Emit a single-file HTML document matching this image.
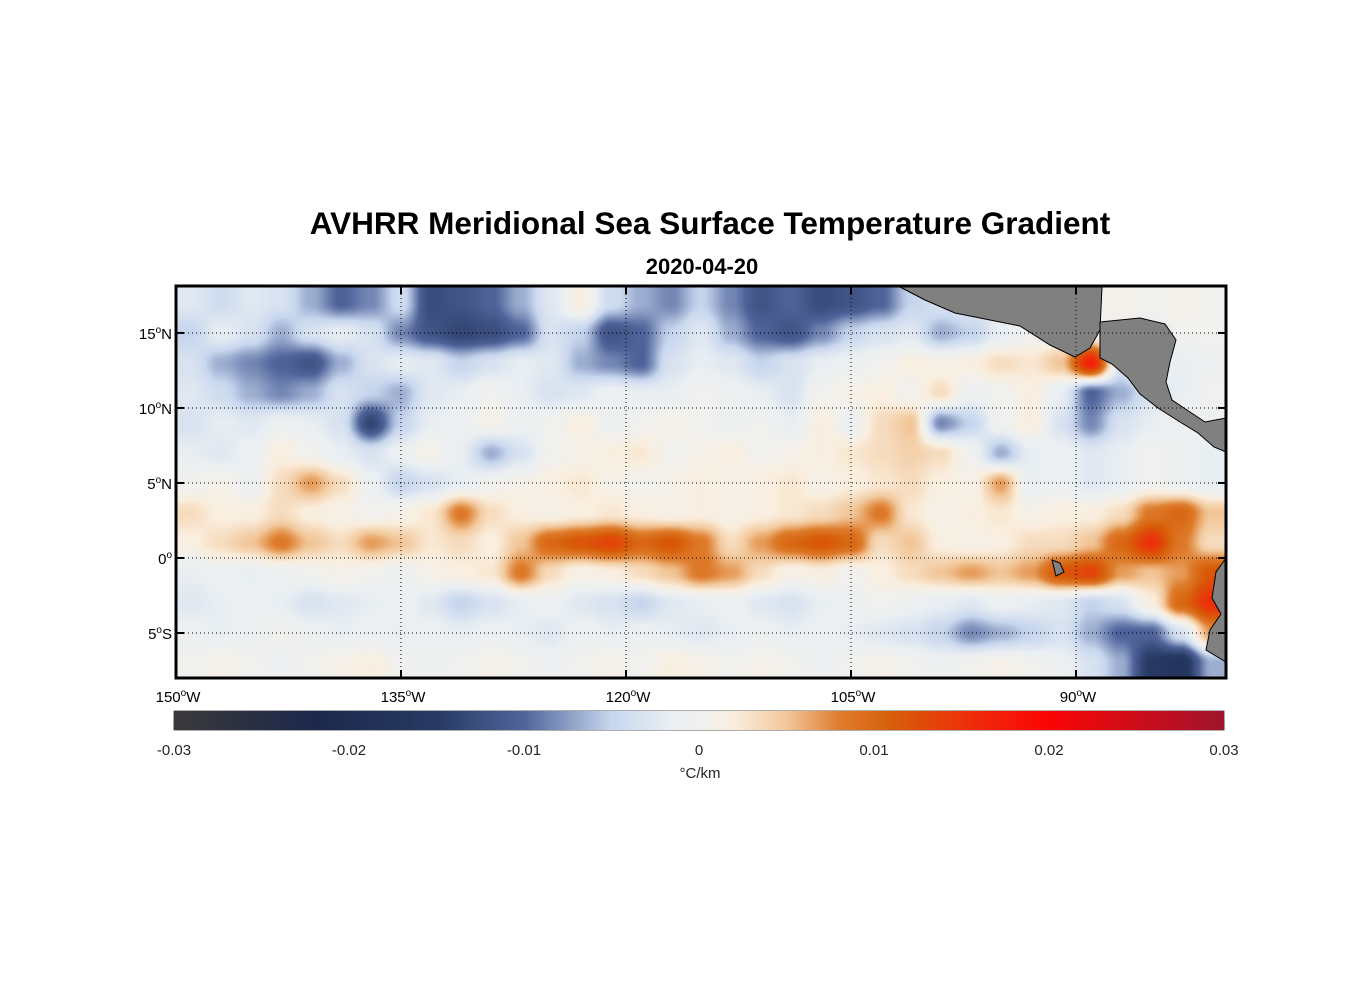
<!DOCTYPE html>
<html><head><meta charset="utf-8"><style>
body{margin:0;background:#fff;width:1356px;height:1000px;overflow:hidden;font-family:"Liberation Sans",sans-serif;}
#wrap{position:relative;width:1356px;height:1000px;}
.t{position:absolute;white-space:nowrap;color:#000;}
</style></head><body><div id="wrap">
<div class="t" style="left:0;width:1420px;text-align:center;top:205px;font-size:31.5px;font-weight:bold;">AVHRR Meridional Sea Surface Temperature Gradient</div>
<div class="t" style="left:0;width:1404px;text-align:center;top:254px;font-size:22px;font-weight:bold;">2020-04-20</div>
<canvas id="map" width="1050" height="392" style="position:absolute;left:176px;top:286px;"></canvas>
<svg id="ov" width="1356" height="1000" style="position:absolute;left:0;top:0;"></svg>
<canvas id="cb" width="1050" height="19" style="position:absolute;left:174px;top:711px;"></canvas>
</div>
<script>
const lonCenters=[-149,-147,-145,-143,-141,-139,-137,-135,-133,-131,-129,-127,-125,-123,-121,-119,-117,-115,-113,-111,-109,-107,-105,-103,-101,-99,-97,-95,-93,-91,-89,-87,-85,-83,-81];
const latCenters=[17,15,13,11,9,7,5,3,1,-1,-3,-5,-7];
const gradRows=[
[-3,-5,-3,-4,-8,-12,-10,-5,-15,-14,-12,-8,-3,2,-5,-8,-10,-6,-10,-14,-12,-15,-14,-12,-6,-4,-3,-2,0,0,0,1,0,1,0],
[-6,-2,-4,-8,-4,-2,-4,-10,-14,-16,-15,-12,-4,-6,-14,-12,-6,-3,-8,-12,-14,-10,-6,-4,-3,-8,-6,-2,0,0,0,0,-1,0,0],
[-4,-8,-10,-12,-14,-8,-4,-2,-3,-6,-4,-2,-3,-8,-10,-12,-4,-2,-3,-6,-4,-2,-1,0,2,1,2,4,3,6,20,-3,0,-2,-1],
[-3,-5,-8,-10,-8,-4,-6,-8,-3,-2,0,-2,-4,-3,-1,-2,-2,0,-1,-2,-4,0,1,2,0,4,-1,0,2,-2,-12,-8,-4,-2,0],
[-4,-2,-3,-1,-2,-4,-16,-6,-2,-1,1,-1,0,2,-1,0,1,0,-1,0,-2,2,-1,4,6,-10,-6,0,2,-4,-10,-4,-2,-1,-1],
[-2,-3,-1,2,0,-2,-4,-1,1,-2,-8,-4,0,1,2,3,0,1,2,0,1,2,3,4,5,4,0,-8,-2,-1,-3,-2,0,-1,-2],
[0,1,-1,4,8,4,-1,-6,-4,-2,0,1,2,3,1,0,1,2,1,2,3,1,2,3,4,2,1,8,-2,-1,-3,-2,0,-1,-2],
[4,2,2,4,2,1,0,1,3,10,4,2,1,2,3,2,1,2,1,2,3,4,6,10,3,1,2,3,1,2,2,4,10,12,6],
[2,4,6,10,6,4,8,6,3,4,2,6,12,14,16,12,14,10,4,8,12,14,12,4,6,2,1,2,4,4,6,12,18,10,4],
[-2,-1,-2,-1,0,1,0,-1,1,2,3,10,4,1,2,4,6,10,8,4,1,2,0,2,4,6,8,6,8,14,16,8,6,8,14],
[-3,-2,-1,-2,-4,-3,-2,-1,-3,-6,-4,-2,-1,-3,-4,-6,-3,-2,-1,-3,-4,-2,-1,0,-1,-2,-3,-1,-2,-3,-6,-4,2,12,18],
[-1,-2,-1,0,-1,-2,-1,-2,-1,-2,-1,-2,-3,-1,-2,-1,-2,-3,-2,-1,-2,-1,-2,-3,-4,-6,-10,-8,-6,-4,-8,-12,-12,-4,8],
[0,1,0,-1,0,1,2,0,-1,0,1,0,-1,0,1,0,2,1,0,1,0,-1,0,1,0,-1,0,1,0,-1,-4,-8,-18,-20,-8]];
const lonTicks=[-150,-135,-120,-105,-90];
const lonTickLabels=["150","135","120","105","90"];
const latTicks=[15,10,5,0,-5];
const latTickLabels=["15","10","5","0","5"];
const latHemis=["N","N","N","",'S'];
const cbTicks=[-0.03,-0.02,-0.01,0,0.01,0.02,0.03];
const cbTickLabels=["-0.03","-0.02","-0.01","0","0.01","0.02","0.03"];

const L=176,T=286,W=1050,H=392,LON0=-150,LON1=-80,LAT0=18.13,LAT1=-8;
const xOf=lon=>L+(lon-LON0)/(LON1-LON0)*W;
const yOf=lat=>T+(LAT0-lat)/(LAT0-LAT1)*H;
const stops=[[-30,[58,58,60]],[-22,[28,40,75]],[-15,[40,58,100]],[-10,[80,100,155]],[-5,[200,215,238]],[-1.5,[234,239,242]],[0,[240,240,238]],[2,[250,238,222]],[5,[242,200,155]],[8,[222,125,45]],[11,[215,95,10]],[16,[240,40,10]],[20,[250,5,5]],[30,[160,20,45]]];
function cmap(v){if(v<=stops[0][0])return stops[0][1];for(let i=1;i<stops.length;i++){if(v<=stops[i][0]){const a=stops[i-1],b=stops[i],t=(v-a[0])/(b[0]-a[0]);return a[1].map((c,k)=>c+(b[1][k]-c)*t);}}return stops[stops.length-1][1];}
function sample(lon,lat){
 let fi=(lon-lonCenters[0])/(lonCenters[1]-lonCenters[0]);fi=Math.max(0,Math.min(lonCenters.length-1,fi));
 let fj=(lat-latCenters[0])/(latCenters[1]-latCenters[0]);fj=Math.max(0,Math.min(latCenters.length-1,fj));
 const i0=Math.min(Math.floor(fi),lonCenters.length-2),j0=Math.min(Math.floor(fj),latCenters.length-2);
 let tx=fi-i0,ty=fj-j0;tx=tx*tx*(3-2*tx);ty=ty*ty*(3-2*ty);
 const a=gradRows[j0][i0],b=gradRows[j0][i0+1],c=gradRows[j0+1][i0],d=gradRows[j0+1][i0+1];
 return 0.85*(a*(1-tx)*(1-ty)+b*tx*(1-ty)+c*(1-tx)*ty+d*tx*ty);}
const cv=document.getElementById('map'),ctx=cv.getContext('2d'),img=ctx.createImageData(W,H);
for(let y=0;y<H;y++){const lat=LAT0-(y+0.5)/H*(LAT0-LAT1);for(let x=0;x<W;x++){const lon=LON0+(x+0.5)/W*(LON1-LON0);const c=cmap(sample(lon,lat));const k=(y*W+x)*4;img.data[k]=c[0];img.data[k+1]=c[1];img.data[k+2]=c[2];img.data[k+3]=255;}}
ctx.putImageData(img,0,0);
const cb=document.getElementById('cb'),cc=cb.getContext('2d');
for(let x=0;x<1050;x++){const v=-30+(x+0.5)/1050*60;const c=cmap(v);cc.fillStyle=`rgb(${c.map(Math.round).join(',')})`;cc.fillRect(x,0,1,19);}
const NS='http://www.w3.org/2000/svg',ov=document.getElementById('ov');
function el(tag,at,txt){const e=document.createElementNS(NS,tag);for(const k in at)e.setAttribute(k,at[k]);if(txt!==undefined)e.textContent=txt;ov.appendChild(e);return e;}
const land1=el('polygon',{points:"900,287 925,300 955,313 990,320 1020,326 1050,345 1075,357 1090,348 1100,330 1102,287",fill:'#808080',stroke:'#000','stroke-width':1});

const land2=el('polygon',{points:"1100,322 1140,318 1165,324 1176,340 1170,362 1166,382 1172,400 1190,412 1205,422 1226,418 1226,452 1214,447 1198,433 1180,422 1158,408 1140,394 1128,378 1112,364 1100,358",fill:'#808080',stroke:'#000','stroke-width':1});

const land3=el('polygon',{points:"1226,558 1216,572 1212,598 1221,614 1210,630 1206,650 1226,662",fill:'#808080',stroke:'#000','stroke-width':1});

const gal=el('polygon',{points:"1052,560 1060,563 1064,572 1056,576",fill:'#808080',stroke:'#000','stroke-width':1});

lonTicks.forEach((lon,i)=>{const x=xOf(lon);
 if(i>0){const g=el('line',{x1:x,y1:T,x2:x,y2:T+H,stroke:'#000','stroke-width':1,'stroke-dasharray':'1,3'});}
 el('line',{x1:x,y1:T,x2:x,y2:T+8,stroke:'#000','stroke-width':2});el('line',{x1:x,y1:T+H-8,x2:x,y2:T+H,stroke:'#000','stroke-width':2});
 const t=el('text',{x:x+2,y:702,'font-size':15,'text-anchor':'middle'});
 t.appendChild(document.createTextNode(lonTickLabels[i]));const s=document.createElementNS(NS,'tspan');s.setAttribute('dy','-6');s.setAttribute('font-size','10');s.textContent='o';t.appendChild(s);const s2=document.createElementNS(NS,'tspan');s2.setAttribute('dy','6');s2.textContent='W';t.appendChild(s2);});
latTicks.forEach((lat,i)=>{const y=yOf(lat);
 const g=el('line',{x1:L,y1:y,x2:L+W,y2:y,stroke:'#000','stroke-width':1,'stroke-dasharray':'1,3'});
 el('line',{x1:L,y1:y,x2:L+8,y2:y,stroke:'#000','stroke-width':2});el('line',{x1:L+W-8,y1:y,x2:L+W,y2:y,stroke:'#000','stroke-width':2});
 const t=el('text',{x:L-4,y:y+6,'font-size':15,'text-anchor':'end'});
 t.appendChild(document.createTextNode(latTickLabels[i]));const s=document.createElementNS(NS,'tspan');s.setAttribute('dy','-6');s.setAttribute('font-size','10');s.textContent='o';t.appendChild(s);const s2=document.createElementNS(NS,'tspan');s2.setAttribute('dy','6');s2.textContent=latHemis[i];t.appendChild(s2);});
const fr=el('rect',{x:L,y:T,width:W,height:H,fill:'none',stroke:'#000','stroke-width':3});
const cbf=el('rect',{x:174,y:711,width:1050,height:19,fill:'none',stroke:'#333','stroke-width':0.8});
cbTicks.forEach((v,i)=>{const x=174+(v+0.03)/0.06*1050;el('line',{x1:x,y1:720,x2:x,y2:730,stroke:'#333','stroke-width':0.8});
 const t=el('text',{x:x,y:755,'font-size':15,'text-anchor':'middle',fill:'#262626'},cbTickLabels[i]);});
const u=el('text',{x:700,y:778,'font-size':15,'text-anchor':'middle',fill:'#262626'},'°C/km');
</script></body></html>
